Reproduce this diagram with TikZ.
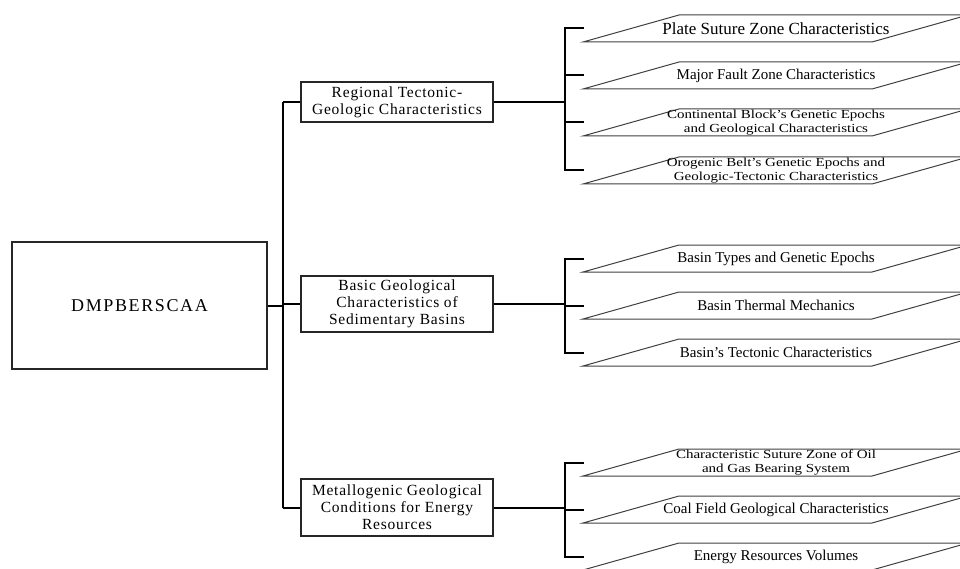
\documentclass[tikz,border=0pt]{standalone}
\usepackage{fontspec}
\setmainfont{Liberation Serif}
\usepackage{graphicx}
\begin{document}
\begin{tikzpicture}[x=1pt,y=-1pt,
  conn/.style={line width=2pt,black},
  boxn/.style={draw=black!85,line width=1.2pt,inner sep=0pt,align=center,
    font=\fontsize{15.5}{17}\selectfont\addfontfeatures{LetterSpace=5}},
  pline/.style={draw=black!75,line width=1pt},
  ptext/.style={inner sep=0pt,align=center,font=\fontsize{15}{11}\selectfont}
]
\useasboundingbox (0,0) rectangle (960,569);
\clip (0,0) rectangle (960,569);
\newcommand\mypara[3]{%
  \draw[pline] (583,{#2+27}) -- (679,#2) -- (968,#2) -- (872,{#2+27}) -- cycle;
  \node[ptext] (#1) at (776,{#2+13.5}) {#3};}
\newcommand\mytwo[2]{\scalebox{1}[0.82]{\begin{tabular}{@{}c@{}}#1\\[2.5pt]#2\end{tabular}}}

% main box
\node[draw=black!85,line width=1.2pt,minimum width=255pt,minimum height=127pt,inner sep=0pt,
  font=\fontsize{18}{20}\selectfont\addfontfeatures{LetterSpace=9}] (main) at (139.5,305.5) {DMPBERSCAA};

% second level
\node[boxn,minimum width=192pt,minimum height=40pt] (b1) at (397,102) {Regional Tectonic-\\Geologic Characteristics};
\node[boxn,minimum width=192pt,minimum height=56pt] (b2) at (397,304) {Basic Geological\\Characteristics of\\Sedimentary Basins};
\node[boxn,minimum width=192pt,minimum height=57pt] (b3) at (397,507.5) {Metallogenic Geological\\Conditions for Energy\\Resources};

\coordinate (tr) at (283,306);
\draw[conn] (main.east) -- (main.east -| tr);
\draw[conn] (b1.west -| tr) -- (b3.west -| tr);
\draw[conn] (b1.west -| tr) -- (b1.west);
\draw[conn] (b2.west -| tr) -- (b2.west);
\draw[conn] (b3.west -| tr) -- (b3.west);

% third level
\mypara{p11}{15}{\fontsize{17}{17}\selectfont Plate Suture Zone Characteristics}
\mypara{p12}{62}{Major Fault Zone Characteristics}
\mypara{p13}{109}{\mytwo{Continental Block's Genetic Epochs}{and Geological Characteristics}}
\mypara{p14}{157}{\mytwo{Orogenic Belt's Genetic Epochs and}{Geologic-Tectonic Characteristics}}
\mypara{p21}{245}{Basin Types and Genetic Epochs}
\mypara{p22}{292}{Basin Thermal Mechanics}
\mypara{p23}{339}{Basin's Tectonic Characteristics}
\mypara{p31}{449}{\mytwo{Characteristic Suture Zone of Oil}{and Gas Bearing System}}
\mypara{p32}{496}{Coal Field Geological Characteristics}
\mypara{p33}{543}{Energy Resources Volumes}

\coordinate (br) at (565,0);
\coordinate (te) at (584,0);
% group 1
\draw[conn] (b1.east) -- (b1.east -| br);
\draw[conn] (p11 -| te) -- (p11 -| br) -- (p14 -| br) -- (p14 -| te);
\draw[conn] (p12 -| br) -- (p12 -| te);
\draw[conn] (p13 -| br) -- (p13 -| te);
% group 2
\draw[conn] (b2.east) -- (b2.east -| br);
\draw[conn] (p21 -| te) -- (p21 -| br) -- (p23 -| br) -- (p23 -| te);
\draw[conn] (p22 -| br) -- (p22 -| te);
% group 3
\draw[conn] (b3.east) -- (b3.east -| br);
\draw[conn] (p31 -| te) -- (p31 -| br) -- (p33 -| br) -- (p33 -| te);
\draw[conn] (p32 -| br) -- (p32 -| te);
\end{tikzpicture}
\end{document}
